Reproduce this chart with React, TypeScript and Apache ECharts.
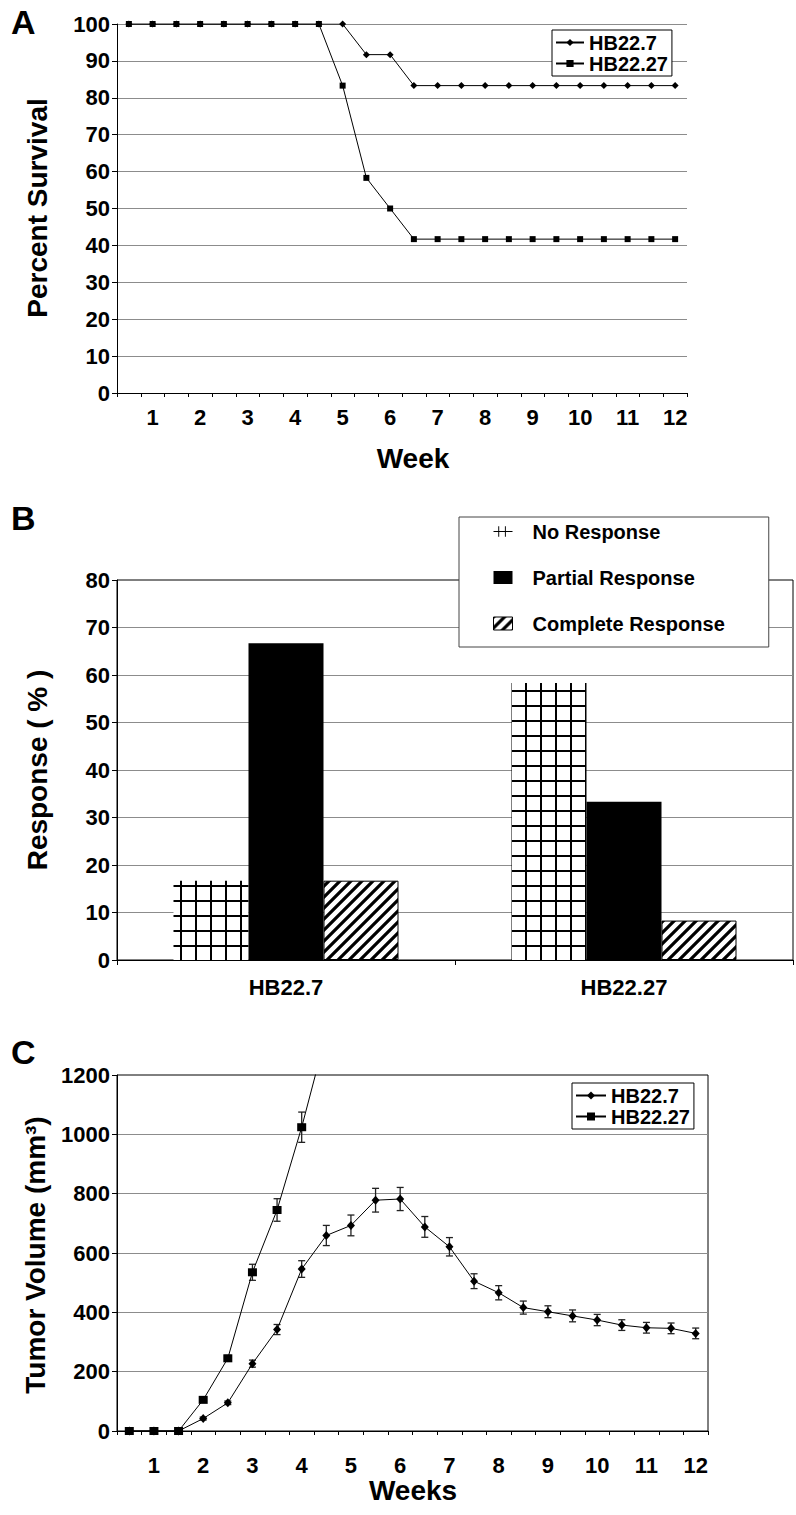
import React, { useEffect, useRef } from 'react';
import * as echarts from 'echarts';

// ---------- data ----------
const weeks = ['0.5','1','1.5','2','2.5','3','3.5','4','4.5','5','5.5','6','6.5','7','7.5','8','8.5','9','9.5','10','10.5','11','11.5','12'];
const weekLabels = ['','1','','2','','3','','4','','5','','6','','7','','8','','9','','10','','11','','12'];

const survivalHB227a = [100,100,100,100,100,100,100,100,100,100,91.7,91.7,83.3,83.3,83.3,83.3,83.3,83.3,83.3,83.3,83.3,83.3,83.3,83.3];
const survivalHB2227 = [100,100,100,100,100,100,100,100,100,83.3,58.3,50,41.7,41.7,41.7,41.7,41.7,41.7,41.7,41.7,41.7,41.7,41.7,41.7];

const responseGroups = ['HB22.7','HB22.27'];
const noResponse = [16.7, 58.3];
const partialResponse = [66.7, 33.3];
const completeResponse = [16.7, 8.3];

const tumorHB227 = [0,0,0,42,95,227,342,546,659,693,778,782,688,621,505,466,416,402,388,374,357,348,346,329];
const tumorHB227Err = [0,0,0,5,6,12,17,28,34,35,40,39,35,31,25,24,22,20,20,19,18,18,18,18];
const tumorHB2227 = [0,0,0,105,245,535,745,1024,1340];
const tumorHB2227Err = [0,0,0,8,10,27,38,51,0];

const yTicksA = { min: 0, max: 100, interval: 10 };
const yTicksB = { min: 0, max: 80, interval: 10 };
const yTicksC = { min: 0, max: 1200, interval: 200 };

const FONT = "'Liberation Sans', Arial, Helvetica, sans-serif";

function makeGridPattern() {
  const c = document.createElement('canvas');
  c.width = 15; c.height = 15;
  const ctx = c.getContext('2d')!;
  ctx.fillStyle = '#fff'; ctx.fillRect(0, 0, 15, 15);
  ctx.fillStyle = '#000';
  ctx.fillRect(0, 0, 2, 15);
  ctx.fillRect(0, 0, 15, 2);
  return c;
}
function makeHatchPattern() {
  const s = 11;
  const c = document.createElement('canvas');
  c.width = s; c.height = s;
  const ctx = c.getContext('2d')!;
  ctx.fillStyle = '#fff'; ctx.fillRect(0, 0, s, s);
  ctx.strokeStyle = '#000'; ctx.lineWidth = 3.2;
  ctx.beginPath();
  ctx.moveTo(-1, s + 1); ctx.lineTo(s + 1, -1);
  ctx.moveTo(-2, 2); ctx.lineTo(2, -2);
  ctx.moveTo(s - 2, s + 2); ctx.lineTo(s + 2, s - 2);
  ctx.stroke();
  return c;
}

function errData(vals: number[], errs: number[]) {
  const out: number[][] = [];
  vals.forEach((v, i) => { if (errs[i] > 0) out.push([i, v - errs[i], v + errs[i]]); });
  return out;
}

const lbl = (size: number, margin: number) => ({ color: '#000', fontFamily: FONT, fontWeight: 'bold', fontSize: size, margin });
const blackLine = { lineStyle: { color: '#000', width: 1 } };

export default function App() {
  const ref = useRef<HTMLDivElement>(null);
  useEffect(() => {
    if (!ref.current) return;
    const chart = echarts.init(ref.current, null, { renderer: 'svg' });
    const gridPat: any = { image: makeGridPattern(), repeat: 'repeat', imageWidth: 15, imageHeight: 15 };
    const hatchPat: any = { image: makeHatchPattern(), repeat: 'repeat', imageWidth: 11, imageHeight: 11 };

    const catAxis = (gridIndex: number, data: string[], margin: number, labels?: string[]) => ({
      gridIndex, type: 'category', data, boundaryGap: true, z: 5,
      axisLine: { show: true, ...blackLine },
      axisTick: { show: true, interval: 0, length: gridIndex === 1 ? 5 : 4, ...blackLine },
      axisLabel: { ...lbl(22, margin), interval: 0, formatter: labels ? (_v: string, i: number) => labels[i] : undefined },
      splitLine: { show: false },
    });
    const valAxis = (gridIndex: number, t: any, showMax: boolean) => ({
      gridIndex, type: 'value', min: t.min, max: t.max, interval: t.interval,
      axisLine: { show: true, ...blackLine },
      axisTick: { show: true, length: 5, ...blackLine },
      axisLabel: { ...lbl(22, 7), formatter: (v: number) => String(v) },
      splitLine: { show: true, showMinLine: false, showMaxLine: showMax, lineStyle: { color: '#8c8c8c', width: 1 } },
    });

    const errRender = (params: any, api: any) => {
      const i = api.value(0);
      const lo = api.coord([i, api.value(1)]);
      const hi = api.coord([i, api.value(2)]);
      const style = { stroke: '#222', lineWidth: 1.3 };
      return {
        type: 'group', children: [
          { type: 'line', shape: { x1: lo[0], y1: lo[1], x2: hi[0], y2: hi[1] }, style },
          { type: 'line', shape: { x1: lo[0] - 3.5, y1: lo[1], x2: lo[0] + 3.5, y2: lo[1] }, style },
          { type: 'line', shape: { x1: hi[0] - 3.5, y1: hi[1], x2: hi[0] + 3.5, y2: hi[1] }, style },
        ],
      };
    };

    const txt = (text: string, x: number, y: number, size: number, rot = 0, align = 'center') => ({
      type: 'text', x, y, rotation: rot, z: 10,
      style: { text, fill: '#000', fontFamily: FONT, fontWeight: 'bold', fontSize: size,
        textAlign: align, textVerticalAlign: 'middle', align, verticalAlign: 'middle' },
    });

    const lineLegendText = { color: '#000', fontFamily: FONT, fontWeight: 'bold', fontSize: 20, lineHeight: 21 };

    const option: any = {
      animation: false,
      backgroundColor: '#fff',
      grid: [
        { left: 117, top: 24, width: 570, height: 369, outerBoundsMode: 'none' },
        { left: 117, top: 580, width: 676, height: 380, show: true, borderColor: '#000', borderWidth: 1, backgroundColor: 'transparent', outerBoundsMode: 'none' },
        { left: 117, top: 1075, width: 591, height: 356, show: true, borderColor: '#000', borderWidth: 1, backgroundColor: 'transparent', outerBoundsMode: 'none' },
      ],
      xAxis: [
        catAxis(0, weeks, 13, weekLabels),
        catAxis(1, responseGroups, 16),
        catAxis(2, weeks, 23, weekLabels),
      ],
      yAxis: [
        valAxis(0, yTicksA, true),
        valAxis(1, yTicksB, false),
        valAxis(2, yTicksC, false),
      ],
      legend: [
        {
          orient: 'vertical', left: 552, top: 30, itemWidth: 28, itemHeight: 9, itemGap: 0,
          padding: [2, 4, 2, 3], borderColor: '#000', borderWidth: 1, backgroundColor: '#fff',
          textStyle: lineLegendText, data: ['HB22.7', 'HB22.27'], selectedMode: false,
        },
        {
          orient: 'vertical', left: 459, top: 517, itemWidth: 19, itemHeight: 13, itemGap: 25,
          padding: [4, 44, 13, 34], borderColor: '#444', borderWidth: 1, backgroundColor: '#fff',
          textStyle: { ...lineLegendText, padding: [0, 0, 0, 15] }, selectedMode: false,
          data: [
            { name: 'No Response', icon: 'path://M0,5h20v1h-20z M5,0h1v11h-1z M12,0h1v11h-1z', itemStyle: { color: '#000' } },
            { name: 'Partial Response', icon: 'rect' },
            { name: 'Complete Response', icon: 'rect', itemStyle: { borderColor: '#000', borderWidth: 1 } },
          ],
          z: 20,
        },
        {
          orient: 'vertical', left: 572, top: 1083, itemWidth: 30, itemHeight: 10, itemGap: 0,
          padding: [2, 4, 2, 3], borderColor: '#000', borderWidth: 1, backgroundColor: '#fff',
          textStyle: lineLegendText, data: ['HB22.7', 'HB22.27'], selectedMode: false,
        },
      ],
      series: [
        { type: 'line', name: 'HB22.7', xAxisIndex: 0, yAxisIndex: 0, data: survivalHB227a,
          symbol: 'diamond', symbolSize: 7, showAllSymbol: true, z: 3,
          lineStyle: { color: '#000', width: 1 }, itemStyle: { color: '#000' } },
        { type: 'line', name: 'HB22.27', xAxisIndex: 0, yAxisIndex: 0, data: survivalHB2227,
          symbol: 'rect', symbolSize: 6, showAllSymbol: true, z: 4,
          lineStyle: { color: '#000', width: 1 }, itemStyle: { color: '#000' } },

        { type: 'bar', name: 'No Response', xAxisIndex: 1, yAxisIndex: 1, data: noResponse,
          barWidth: 75, barGap: '0%', itemStyle: { color: gridPat } },
        { type: 'bar', name: 'Partial Response', xAxisIndex: 1, yAxisIndex: 1, data: partialResponse,
          barWidth: 75, barGap: '0%', itemStyle: { color: '#000' } },
        { type: 'bar', name: 'Complete Response', xAxisIndex: 1, yAxisIndex: 1, data: completeResponse,
          barWidth: 75, barGap: '0%', itemStyle: { color: hatchPat, borderColor: '#000', borderWidth: 1 } },

        { type: 'custom', name: 'errHB22.7', xAxisIndex: 2, yAxisIndex: 2, data: errData(tumorHB227, tumorHB227Err),
          renderItem: errRender, encode: { x: 0, y: [1, 2] }, z: 2 },
        { type: 'custom', name: 'errHB22.27', xAxisIndex: 2, yAxisIndex: 2, data: errData(tumorHB2227, tumorHB2227Err),
          renderItem: errRender, encode: { x: 0, y: [1, 2] }, z: 2 },
        { type: 'line', name: 'HB22.7', xAxisIndex: 2, yAxisIndex: 2, data: tumorHB227,
          symbol: 'diamond', symbolSize: [8, 9], showAllSymbol: true, z: 3,
          lineStyle: { color: '#000', width: 1 }, itemStyle: { color: '#000' } },
        { type: 'line', name: 'HB22.27', xAxisIndex: 2, yAxisIndex: 2, data: tumorHB2227,
          symbol: 'rect', symbolSize: [9, 8], showAllSymbol: true, z: 4, clip: true,
          lineStyle: { color: '#000', width: 1 }, itemStyle: { color: '#000' } },
      ],
      graphic: [
        txt('A', 11, 22, 34, 0, 'left'),
        txt('B', 11, 518, 34, 0, 'left'),
        txt('C', 11, 1052, 34, 0, 'left'),
        txt('Percent Survival', 37, 208, 28, Math.PI / 2),
        txt('Week', 413, 458, 28),
        txt('Response ( % )', 37, 770, 28, Math.PI / 2),
        txt('Tumor Volume (mm\u00B3)', 35, 1255, 28, Math.PI / 2),
        txt('Weeks', 413, 1490, 28),
      ],
    };
    chart.setOption(option);
    return () => chart.dispose();
  }, []);
  return <div ref={ref} style={{ position: 'absolute', left: 0, top: 0, width: 796, height: 1515 }} />;
}
